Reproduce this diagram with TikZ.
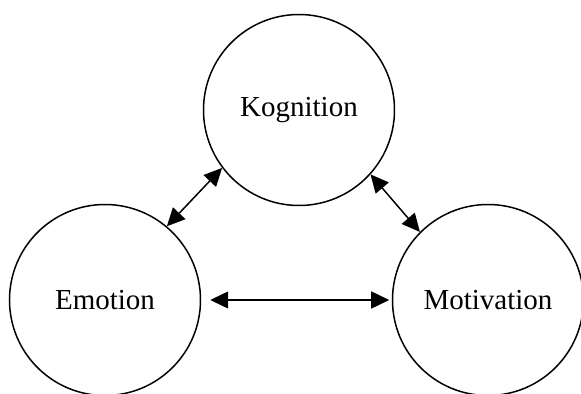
\documentclass[tikz,border=0pt]{standalone}
\usepackage{fontspec}
\setmainfont{Liberation Serif}
\usetikzlibrary{arrows.meta, positioning}

\begin{document}
\begin{tikzpicture}[node distance=3.8cm,on grid,>={Triangle[length=0.36cm,width=0.34cm]},
        every node/.style={font=\fontsize{16.5}{18}\selectfont},
        bereich/.style={circle,draw,line width=0.85pt,minimum size=3.82cm,inner sep=0pt},
        link/.style={<->,line width=0.85pt}]

      \useasboundingbox (-5.98,2.2) rectangle (5.64,-5.68);

      \node[bereich]  (kog)                                   {Kognition};
      \node[bereich]  (emo) [below left=3.8cm and 3.88cm of kog]  {Emotion};
      \node[bereich]  (mot) [below right=3.8cm and 3.78cm of kog] {Motivation};

      \draw[link] (emo.50)  -- (kog.217);
      \draw[link] (kog.318) -- (mot.135);
      \draw[link,shorten <=0.18cm,shorten >=0.05cm] (emo.east) -- (mot.west);
    \end{tikzpicture}
\end{document}
